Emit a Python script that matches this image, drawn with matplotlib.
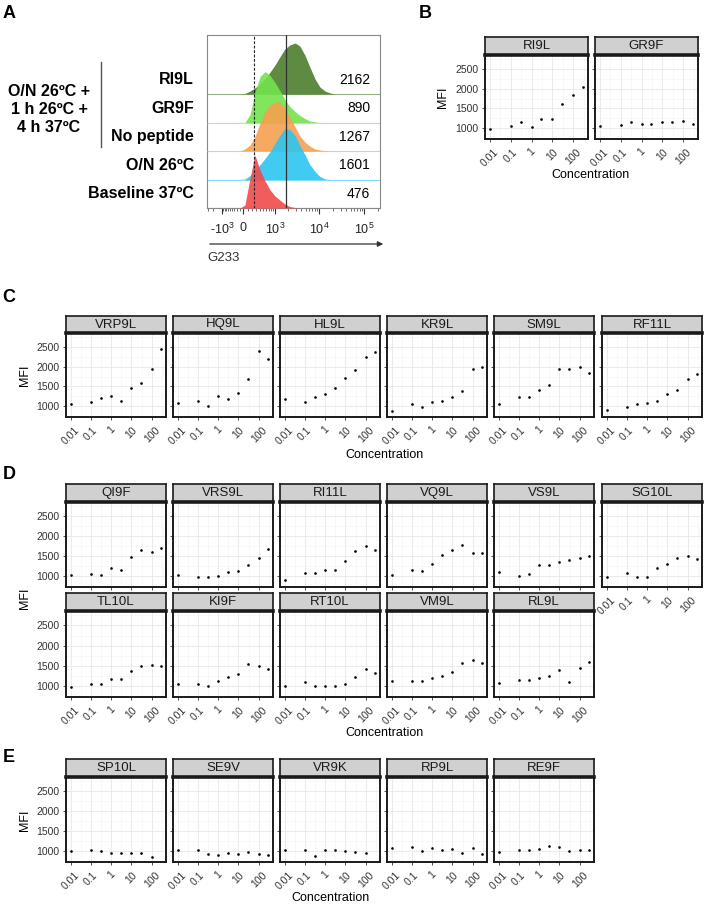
import numpy as np
import matplotlib.pyplot as plt
from matplotlib.lines import Line2D
from matplotlib.patches import FancyArrowPatch
from matplotlib.ticker import NullFormatter
from matplotlib.transforms import blended_transform_factory

plt.rcParams['font.family'] = ['Liberation Sans', 'DejaVu Sans']
plt.rcParams['mathtext.default'] = 'regular'
plt.rcParams['axes.unicode_minus'] = False

# ---- panel A: flow histograms ----
flow_rows = ['RI9L', 'GR9F', 'No peptide', 'O/N 26ºC', 'Baseline 37ºC']
flow_mfi = [2162, 890, 1267, 1601, 476]
flow_colors = ['#4d7d2c', '#72e44e', '#f6a04f', '#2cc6f2', '#f24a4a']
flow_x = [-270, -90, 40, 150, 260, 400, 560, 760, 1000, 1300, 1700, 2200,
          2900, 3700, 4800, 6200, 8100, 10400, 13500, 17500, 22500]
hist_ri9l = [0, 0, 0.5, 3, 6, 10, 15, 22, 29, 37, 45, 49, 51, 48, 39, 27, 15, 7, 3, 1, 0]
hist_gr9f = [0, 0, 0, 8, 30, 46, 51, 47, 40, 32, 23, 16, 11, 7, 4, 1.5, 0.5, 0, 0, 0, 0]
hist_nopep = [0, 0, 2, 6, 14, 28, 40, 46, 49, 49, 43, 34, 24, 15, 9, 5, 2, 1, 0.3, 0, 0]
hist_on26 = [0, 0, 0.5, 4, 9, 15, 21, 28, 36, 44, 51, 50, 44, 34, 25, 15, 8, 3, 0.5, 0, 0]
hist_base = [0, 0, 3, 30, 53, 38, 27, 18, 12, 8, 4, 1.5, 0.5, 0, 0, 0, 0, 0, 0, 0, 0]
flow_hists = [hist_ri9l, hist_gr9f, hist_nopep, hist_on26, hist_base]
gate_dashed = 239
gate_solid = 1807

# ---- panels B-E: MFI vs concentration ----
conc = [0.01, 0.1, 0.3, 1, 3, 10, 30, 100, 300]

b_names = ['RI9L', 'GR9F']
b_mfi = [[975, 1060, 1145, 1015, 1235, 1235, 1600, 1850, 2045],
         [1040, 1070, 1150, 1095, 1090, 1155, 1150, 1175, 1100]]

c_names = ['VRP9L', 'HQ9L', 'HL9L', 'KR9L', 'SM9L', 'RF11L']
c_mfi = [[1050, 1110, 1210, 1250, 1140, 1470, 1580, 1950, 2460],
         [1070, 1120, 1005, 1250, 1190, 1340, 1680, 2390, 2200],
         [1180, 1110, 1220, 1300, 1470, 1710, 1930, 2240, 2370],
         [880, 1040, 980, 1110, 1120, 1240, 1390, 1950, 1990],
         [1060, 1235, 1220, 1420, 1540, 1945, 1935, 2005, 1850],
         [905, 980, 1055, 1080, 1115, 1310, 1405, 1700, 1810]]

d_names = ['QI9F', 'VRS9L', 'RI11L', 'VQ9L', 'VS9L', 'SG10L',
           'TL10L', 'KI9F', 'RT10L', 'VM9L', 'RL9L']
d_mfi = [[1020, 1040, 1030, 1190, 1150, 1480, 1655, 1610, 1700],
         [1020, 975, 970, 1000, 1105, 1125, 1270, 1460, 1665],
         [890, 1065, 1065, 1150, 1160, 1370, 1625, 1760, 1645],
         [1020, 1150, 1135, 1310, 1520, 1640, 1770, 1565, 1575],
         [1105, 1000, 1050, 1270, 1285, 1345, 1395, 1440, 1500],
         [965, 1080, 965, 975, 1200, 1300, 1455, 1490, 1430],
         [970, 1055, 1055, 1165, 1175, 1355, 1500, 1515, 1500],
         [1040, 1055, 1000, 1110, 1215, 1280, 1550, 1500, 1420],
         [1005, 1100, 995, 990, 1000, 1055, 1210, 1415, 1305],
         [1115, 1125, 1110, 1185, 1245, 1345, 1575, 1645, 1575],
         [1080, 1150, 1145, 1185, 1250, 1380, 1100, 1450, 1590]]

e_names = ['SP10L', 'SE9V', 'VR9K', 'RP9L', 'RE9F']
e_mfi = [[990, 1030, 990, 950, 955, 955, 955, 840, np.nan],
         [1020, 1020, 925, 905, 955, 915, 980, 930, 905],
         [1015, 1025, 875, 1030, 1015, 1005, 965, 955, np.nan],
         [1065, 1110, 1000, 1085, 1010, 1035, 950, 1065, 925],
         [975, 1015, 1025, 1050, 1125, 1090, 1000, 1015, 1015]]

W, H = 709, 911
fig = plt.figure(figsize=(W / 100, H / 100), dpi=100)


def box(x0, y0, x1, y1):
    return [x0 / W, 1 - y1 / H, (x1 - x0) / W, (y1 - y0) / H]


def fxy(x, y):
    return (x / W, 1 - y / H)


# ---------- panel A ----------
C_ASINH = 403.0
NEG_K = 0.66


def fwd(x):
    u = np.arcsinh(np.asarray(x, float) / C_ASINH)
    return np.where(u < 0, u * NEG_K, u)


def inv(u):
    u = np.asarray(u, float)
    return np.where(u < 0, C_ASINH * np.sinh(u / NEG_K), C_ASINH * np.sinh(u))


row_px = 28.5
axA = fig.add_axes(box(207, 35, 380, 208))
axA.set_xscale('function', functions=(fwd, inv))
axA.set_xlim(-3290, 226500)
axA.set_ylim(0, 173 / row_px)
n = len(flow_rows)
for i, (name, hist, col) in enumerate(zip(flow_rows, flow_hists, flow_colors)):
    base = n - 1 - i
    top = base + np.array(hist) / row_px
    axA.fill_between(flow_x, base, top, color=col, alpha=0.9, lw=0, zorder=2 + i)
    axA.axhline(base, color=col, lw=0.8, alpha=0.6, zorder=2 + i)
axA.axvline(gate_dashed, color='#222222', lw=0.8, ls=(0, (2.5, 1.5)), zorder=20)
axA.axvline(gate_solid, color='#333333', lw=0.9, zorder=20)
axA.set_yticks([])
axA.set_xticks([-1000, 0, 1000, 10000, 100000])
axA.set_xticklabels([r'-$10^3$', '0', r'$10^3$', r'$10^4$', r'$10^5$'])
minor = ([-3000, -2000] + list(range(-900, 0, 100)) + list(range(100, 1000, 100)) +
         list(range(2000, 10000, 1000)) + list(range(20000, 100000, 10000)) + [200000])
axA.set_xticks(minor, minor=True)
axA.xaxis.set_minor_formatter(NullFormatter())
axA.tick_params(axis='x', which='major', length=4, width=0.8, color='#333333',
                labelsize=9, pad=6, labelcolor='#222222')
axA.tick_params(axis='x', which='minor', length=2, width=0.5, color='#333333')
for s in axA.spines.values():
    s.set_color('#888888')
    s.set_linewidth(0.8)

tr_lab = blended_transform_factory(fig.transFigure, axA.transData)
for i, (name, m) in enumerate(zip(flow_rows, flow_mfi)):
    base = n - 1 - i
    fig.text(194 / W, base + 0.5, name, transform=tr_lab, ha='right', va='center',
             fontsize=11.5, fontweight='bold')
    fig.text(370 / W, base + 0.5, str(m), transform=tr_lab, ha='right', va='center',
             fontsize=10, zorder=30)

fig.text(*fxy(49, 109), 'O/N 26ºC +\n1 h 26ºC +\n4 h 37ºC', ha='center', va='center',
         fontsize=11.5, fontweight='bold', linespacing=1.25)
fig.add_artist(Line2D([101 / W, 101 / W], [1 - 62 / H, 1 - 147 / H], color='#555555', lw=1))
fig.add_artist(FancyArrowPatch(fxy(207, 244), fxy(386, 244), transform=fig.transFigure,
                               arrowstyle='-|>', mutation_scale=8, lw=0.9, color='#333333'))
fig.text(*fxy(207, 258), 'G233', ha='left', va='center', fontsize=9.5, color='#333333')


# ---------- facet panels ----------
def facet(x0, strip_top, body_top, body_bot, name, mfi, width=100, ylab=True, xlab=True):
    ax = fig.add_axes(box(x0, body_top, x0 + width, body_bot))
    ax.set_xscale('log')
    ax.plot(conc, mfi, 'o', ms=1.9, mew=0, color='black', zorder=3)
    ax.set_xlim(10 ** -2.224, 10 ** 2.701)
    ax.set_ylim(720, 2860)
    ax.set_xticks([0.01, 0.1, 1, 10, 100])
    ax.set_xticklabels(['0.01', '0.1', '1', '10', '100'])
    ax.set_xticks([10 ** -1.5, 10 ** -0.5, 10 ** 0.5, 10 ** 1.5, 10 ** 2.5], minor=True)
    ax.xaxis.set_minor_formatter(NullFormatter())
    ax.set_yticks([1000, 1500, 2000, 2500])
    ax.set_yticks([750, 1250, 1750, 2250, 2750], minor=True)
    ax.grid(which='major', color='#e8e8e8', lw=0.6)
    ax.grid(which='minor', color='#f3f3f3', lw=0.4)
    ax.set_axisbelow(True)
    ax.tick_params(which='minor', length=0)
    ax.tick_params(which='major', length=2.5, width=0.6, color='#333333',
                   labelsize=7.5, labelcolor='#333333', pad=2)
    ax.tick_params(axis='x', labelbottom=xlab, pad=3)
    ax.tick_params(axis='y', labelleft=ylab)
    for lbl in ax.get_xticklabels():
        lbl.set_rotation(45)
    for s in ax.spines.values():
        s.set_linewidth(1.4)
        s.set_color('#1a1a1a')
    st = fig.add_axes(box(x0, strip_top, x0 + width, body_top))
    st.set_facecolor('#d0d0d0')
    st.set_xticks([])
    st.set_yticks([])
    for s in st.spines.values():
        s.set_linewidth(1.2)
        s.set_color('#1a1a1a')
    st.spines['bottom'].set_linewidth(2.6)
    st.text(0.5, 0.5, name, ha='center', va='center', fontsize=9.5, color='#1a1a1a',
            transform=st.transAxes)
    return ax


# B
for j, (nm, vals) in enumerate(zip(b_names, b_mfi)):
    facet(485 + 110 * j, 37, 55, 139, nm, vals, width=103, ylab=(j == 0))
fig.text(*fxy(443, 97), 'MFI', rotation=90, ha='center', va='center', fontsize=9)
fig.text(*fxy(591, 175), 'Concentration', ha='center', va='center', fontsize=9)

cols_x = [66, 173, 280, 387, 494, 602]

# C
for j, (nm, vals) in enumerate(zip(c_names, c_mfi)):
    facet(cols_x[j], 316, 333, 417, nm, vals, ylab=(j == 0))
fig.text(*fxy(25, 375), 'MFI', rotation=90, ha='center', va='center', fontsize=9)
fig.text(*fxy(384, 455), 'Concentration', ha='center', va='center', fontsize=9)

# D
for k, (nm, vals) in enumerate(zip(d_names, d_mfi)):
    r, j = divmod(k, 6)
    if r == 0:
        facet(cols_x[j], 484, 502, 587, nm, vals, ylab=(j == 0), xlab=(j == 5))
    else:
        facet(cols_x[j], 593, 611, 697, nm, vals, ylab=(j == 0))
fig.text(*fxy(25, 598), 'MFI', rotation=90, ha='center', va='center', fontsize=9)
fig.text(*fxy(384, 733), 'Concentration', ha='center', va='center', fontsize=9)

# E
for j, (nm, vals) in enumerate(zip(e_names, e_mfi)):
    facet(cols_x[j], 759, 777, 862, nm, vals, ylab=(j == 0))
fig.text(*fxy(25, 820), 'MFI', rotation=90, ha='center', va='center', fontsize=9)
fig.text(*fxy(330, 898), 'Concentration', ha='center', va='center', fontsize=9)

for letter, (x, y) in zip('ABCDE', [(9, 14), (425, 14), (9, 297), (9, 474), (9, 757)]):
    fig.text(*fxy(x, y), letter, ha='center', va='center', fontsize=13, fontweight='bold')

fig.savefig('out.png', dpi=100)
